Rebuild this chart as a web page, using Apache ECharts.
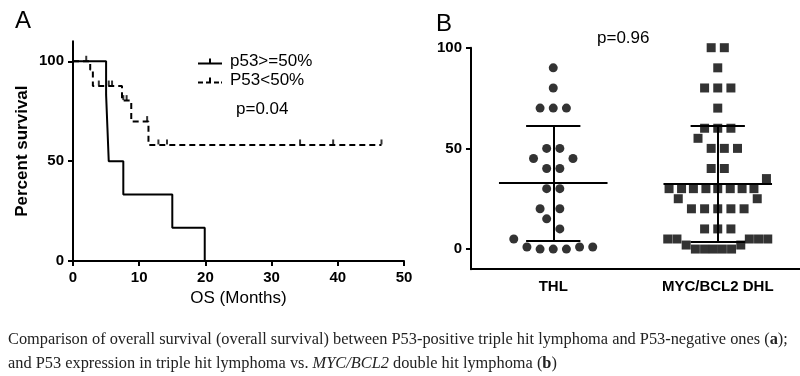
<!DOCTYPE html>
<html>
<head>
<meta charset="utf-8">
<script src="https://cdn.jsdelivr.net/npm/echarts@6/dist/echarts.min.js"></script>
<style>
  html, body { margin: 0; padding: 0; background: #fff; }
  #chart { position: absolute; left: 0; top: 0; width: 800px; height: 376px; }
  #caption {
    position: absolute; left: 8px; top: 327px; white-space: nowrap;
    font-family: 'Liberation Serif', 'DejaVu Serif', serif;
    font-size: 16.35px; line-height: 24px; color: #222;
  }
</style>
</head>
<body>
<div id="chart"></div>
<div id="caption">Comparison of overall survival (overall survival) between P53-positive triple hit lymphoma and P53-negative ones (<b>a</b>);<br>and P53 expression in triple hit lymphoma vs. <i>MYC/BCL2</i> double hit lymphoma (<b>b</b>)</div>
<script>
// Panel A: Kaplan-Meier curves (months, percent survival)
const osTicks = [0, 10, 20, 30, 40, 50];
const survTicks = [0, 50, 100];
const highMonths = [0, 5.0, 5.2, 5.4, 7.6, 15.0, 19.9];
const highSurv = [100, 83.3, 66.7, 50, 33.3, 16.7, 0];
const lowMonths = [0, 2.6, 3.0, 7.4, 8.8, 11.4, 46.6];
const lowSurv = [100, 95.8, 87.6, 80.3, 69.8, 58.1, 58.1];
const lowCensorMonths = [2.0, 3.9, 5.4, 5.9, 7.6, 8.1, 11.2, 12.9, 14.2, 34.3, 39.3, 46.6];
const lowCensorSurv = [100, 87.6, 87.6, 87.6, 80.3, 80.3, 69.8, 58.1, 58.1, 58.1, 58.1, 58.1];

// Panel B: P53 expression dot plot
const groups = ['THL', 'MYC/BCL2 DHL'];
const p53Ticks = [0, 50, 100];
const thlValues = [90, 80, 70, 70, 70, 50, 50, 45, 45, 40, 40, 30, 30, 20, 20, 15, 10, 5, 1, 0, 0, 0, 1, 1];
const thlCols   = [0, 0, -1, 0, 1, -0.5, 0.5, -1.5, 1.5, -0.5, 0.5, -0.5, 0.5, -1, 0.5, -0.5, 0.5, -3, -2, -1, 0, 1, 2, 3];
const dhlValues = [100, 100, 90, 80, 80, 80, 70, 60, 60, 60, 55, 50, 50, 50, 40, 40, 35,
  30, 30, 30, 30, 30, 30, 30, 30, 25, 25, 20, 20, 20, 20, 20, 10, 10, 10,
  5, 5, 5, 5, 5, 2, 2, 0, 0, 0, 0, 0];
const dhlCols = [-0.5, 0.5, 0, -1, 0, 1, 0, -1, 0, 1, -1.5, -0.5, 0.5, 1.5, -0.5, 0.5, 3.7,
  -3.7, -2.75, -1.85, -0.9, 0, 0.95, 1.85, 2.75, -3, 3, -2, -1, 0, 1, 2, -1, 0, 1,
  -3.8, -3.1, 2.4, 3.1, 3.8, -2.4, 1.75, -1.7, -1.0, -0.33, 0.35, 1.05];
const groupMean = [32.8, 32.6];
const groupSD = [28.5, 28.8];

(function () {
  const chart = echarts.init(document.getElementById('chart'));
  const font = "'Liberation Sans', Arial, sans-serif";
  const ink = '#000';
  const colStep = 0.08;

  const axisLine = { lineStyle: { color: ink, width: 2 } };
  const axisTick = { inside: false, length: 5, lineStyle: { color: ink, width: 2 } };
  const tickLabel = { color: ink, fontFamily: font, fontSize: 15, fontWeight: 'bold' };

  const stepData = (xs, ys) => xs.map((x, i) => [x, ys[i]]);

  const barSegments = [];
  groups.forEach((g, i) => {
    const c = i + 0.5, m = groupMean[i], s = groupSD[i];
    barSegments.push({ coords: [[c - 0.33, m], [c + 0.33, m]] });
    barSegments.push({ coords: [[c - 0.165, m + s], [c + 0.165, m + s]] });
    barSegments.push({ coords: [[c - 0.165, m - s], [c + 0.165, m - s]] });
    barSegments.push({ coords: [[c, m - s], [c, m + s]] });
  });

  const iconSolid = 'path://M0,4h24v2h-24z M11,0h2v4h-2z';
  const iconDashed = 'path://M0,4h5v2h-5z M8,4h3v2h-3z M11,0h2v6h-2z M16,4h5v2h-5z M23,4h1v2h-1z';

  const option = {
    animation: false,
    backgroundColor: '#fff',
    title: [
      { text: 'A', left: 10, top: 4, textStyle: { fontFamily: font, fontSize: 24, fontWeight: 'normal', color: ink } },
      { text: 'p=0.04', left: 231, top: 96, textStyle: { fontFamily: font, fontSize: 17, fontWeight: 'normal', color: ink } },
      { text: 'B', left: 431, top: 7, textStyle: { fontFamily: font, fontSize: 24, fontWeight: 'normal', color: ink } },
      { text: 'p=0.96', left: 592, top: 25, textStyle: { fontFamily: font, fontSize: 17, fontWeight: 'normal', color: ink } }
    ],
    legend: {
      left: 193, top: 48, orient: 'vertical', itemGap: 2,
      itemWidth: 24, itemHeight: 6,
      textStyle: { fontFamily: font, fontSize: 17, color: ink, padding: [0, 0, 0, 3] },
      data: [
        { name: 'p53>=50%', icon: iconSolid },
        { name: 'P53<50%', icon: iconDashed }
      ]
    },
    grid: [
      { left: 73, top: 41.3, width: 331, height: 219.7 },
      { left: 471, top: 47.7, width: 332, height: 221.5 }
    ],
    xAxis: [
      {
        gridIndex: 0, type: 'value', min: 0, max: 50, interval: 10,
        name: 'OS (Months)', nameLocation: 'middle', nameGap: 25,
        nameTextStyle: { fontFamily: font, fontSize: 17, color: ink },
        axisLine: Object.assign({ onZero: false }, axisLine), axisTick: axisTick,
        axisLabel: Object.assign({ margin: 9, customValues: osTicks }, tickLabel),
        splitLine: { show: false }
      },
      {
        gridIndex: 1, type: 'category', data: groups, boundaryGap: true,
        axisLine: Object.assign({ onZero: false }, axisLine),
        axisTick: Object.assign({ alignWithLabel: true }, axisTick),
        axisLabel: Object.assign({ margin: 10 }, tickLabel),
        splitLine: { show: false }
      },
      {
        gridIndex: 1, type: 'value', min: 0, max: 2, show: false
      }
    ],
    yAxis: [
      {
        gridIndex: 0, type: 'value', min: 0, max: 110,
        name: 'Percent survival', nameLocation: 'middle', nameGap: 42,
        nameTextStyle: { fontFamily: font, fontSize: 17, fontWeight: 'bold', color: ink },
        axisLine: Object.assign({ onZero: false }, axisLine),
        axisTick: Object.assign({ customValues: survTicks }, axisTick),
        axisLabel: Object.assign({ margin: 9, customValues: survTicks }, tickLabel),
        splitLine: { show: false }
      },
      {
        gridIndex: 1, type: 'value', min: -10, max: 100,
        axisLine: Object.assign({ onZero: false }, axisLine),
        axisTick: Object.assign({ customValues: p53Ticks }, axisTick),
        axisLabel: Object.assign({ margin: 9, customValues: p53Ticks }, tickLabel),
        splitLine: { show: false }
      }
    ],
    series: [
      {
        name: 'p53>=50%', type: 'line', step: 'end', xAxisIndex: 0, yAxisIndex: 0,
        data: stepData(highMonths, highSurv), symbol: 'none',
        lineStyle: { color: ink, width: 2 }, itemStyle: { color: ink }
      },
      {
        name: 'P53<50%', type: 'line', step: 'end', xAxisIndex: 0, yAxisIndex: 0,
        data: stepData(lowMonths, lowSurv), symbol: 'none',
        lineStyle: { color: ink, width: 2, type: [6, 4] }, itemStyle: { color: ink }
      },
      {
        name: 'P53<50% censored', type: 'scatter', xAxisIndex: 0, yAxisIndex: 0,
        data: stepData(lowCensorMonths, lowCensorSurv),
        symbol: 'rect', symbolSize: [2, 5], symbolOffset: [0, -3],
        itemStyle: { color: ink }
      },
      {
        name: 'THL', type: 'scatter', xAxisIndex: 2, yAxisIndex: 1,
        data: thlValues.map((v, i) => [0.5 + thlCols[i] * colStep, v]),
        symbol: 'circle', symbolSize: 9, itemStyle: { color: ink }
      },
      {
        name: 'MYC/BCL2 DHL', type: 'scatter', xAxisIndex: 2, yAxisIndex: 1,
        data: dhlValues.map((v, i) => [1.5 + dhlCols[i] * colStep, v]),
        symbol: 'rect', symbolSize: 9, itemStyle: { color: ink }
      },
      {
        name: 'mean sd', type: 'lines', coordinateSystem: 'cartesian2d',
        xAxisIndex: 2, yAxisIndex: 1, data: barSegments,
        lineStyle: { color: ink, width: 2, opacity: 1 }
      }
    ]
  };

  chart.setOption(option);
})();
</script>
</body>
</html>
